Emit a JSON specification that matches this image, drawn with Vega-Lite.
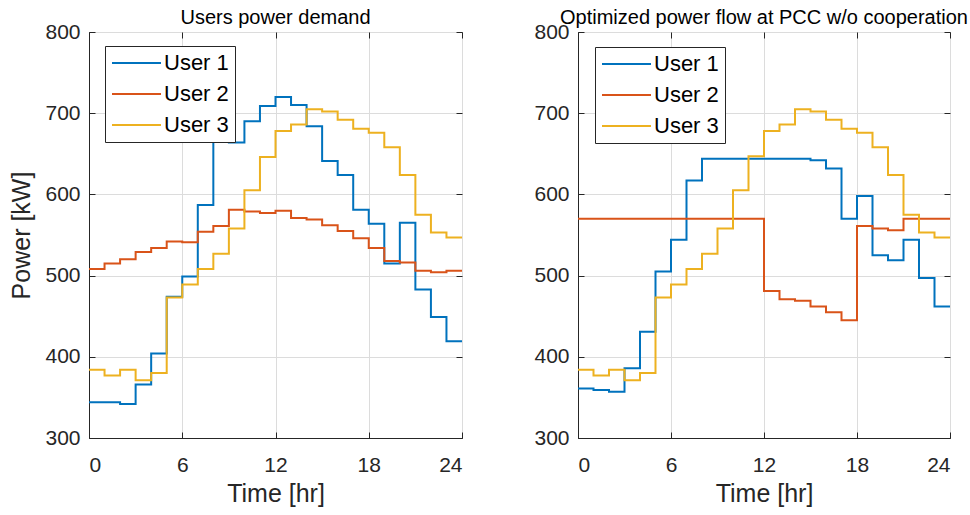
{
"$schema": "https://vega.github.io/schema/vega-lite/v6.json",
"padding": {"left": 9, "top": 7, "right": 0, "bottom": 0},
"background": "white",
"config": {
  "font": "Liberation Sans",
  "view": {"stroke": "#262626", "strokeWidth": 1},
  "axis": {"labelFont": "Liberation Sans", "labelFontSize": 21, "labelColor": "#262626", "titleFont": "Liberation Sans", "titleFontSize": 25, "titleFontWeight": "normal", "titleColor": "#262626", "domainColor": "#262626", "tickColor": "#262626", "gridColor": "#dcdcdc", "tickSize": -6},
  "axisX": {"labelPadding": 22, "titlePadding": 6},
  "axisY": {"labelPadding": 15, "titlePadding": 10},
  "title": {"font": "Liberation Sans", "fontSize": 20, "fontWeight": "normal", "color": "#000000", "offset": -7, "frame": "group"},
  "legend": {"symbolType": "M-1,0H3.9", "symbolStrokeWidth": 2, "symbolSize": 400, "labelFont": "Liberation Sans", "labelFontSize": 22, "labelColor": "#000000", "fillColor": "white", "strokeColor": "#262626", "padding": 6, "rowPadding": 9, "labelOffset": 31, "cornerRadius": 0}
},
"datasets": {"d": [
{"panel":"L","user":"User 1","hour":0,"power":344},{"panel":"L","user":"User 1","hour":1,"power":344},{"panel":"L","user":"User 1","hour":2,"power":342},{"panel":"L","user":"User 1","hour":3,"power":366},{"panel":"L","user":"User 1","hour":4,"power":404},{"panel":"L","user":"User 1","hour":5,"power":474},{"panel":"L","user":"User 1","hour":6,"power":499},{"panel":"L","user":"User 1","hour":7,"power":587},{"panel":"L","user":"User 1","hour":8,"power":690},{"panel":"L","user":"User 1","hour":9,"power":664},{"panel":"L","user":"User 1","hour":10,"power":690},{"panel":"L","user":"User 1","hour":11,"power":709},{"panel":"L","user":"User 1","hour":12,"power":720},{"panel":"L","user":"User 1","hour":13,"power":710},{"panel":"L","user":"User 1","hour":14,"power":684},{"panel":"L","user":"User 1","hour":15,"power":641},{"panel":"L","user":"User 1","hour":16,"power":624},{"panel":"L","user":"User 1","hour":17,"power":581},{"panel":"L","user":"User 1","hour":18,"power":564},{"panel":"L","user":"User 1","hour":19,"power":515},{"panel":"L","user":"User 1","hour":20,"power":565},{"panel":"L","user":"User 1","hour":21,"power":483},{"panel":"L","user":"User 1","hour":22,"power":449},{"panel":"L","user":"User 1","hour":23,"power":419},{"panel":"L","user":"User 1","hour":24,"power":419},
{"panel":"L","user":"User 2","hour":0,"power":508},{"panel":"L","user":"User 2","hour":1,"power":515},{"panel":"L","user":"User 2","hour":2,"power":520},{"panel":"L","user":"User 2","hour":3,"power":529},{"panel":"L","user":"User 2","hour":4,"power":534},{"panel":"L","user":"User 2","hour":5,"power":542},{"panel":"L","user":"User 2","hour":6,"power":541},{"panel":"L","user":"User 2","hour":7,"power":554},{"panel":"L","user":"User 2","hour":8,"power":561},{"panel":"L","user":"User 2","hour":9,"power":581},{"panel":"L","user":"User 2","hour":10,"power":579},{"panel":"L","user":"User 2","hour":11,"power":577},{"panel":"L","user":"User 2","hour":12,"power":580},{"panel":"L","user":"User 2","hour":13,"power":571},{"panel":"L","user":"User 2","hour":14,"power":569},{"panel":"L","user":"User 2","hour":15,"power":562},{"panel":"L","user":"User 2","hour":16,"power":555},{"panel":"L","user":"User 2","hour":17,"power":546},{"panel":"L","user":"User 2","hour":18,"power":534},{"panel":"L","user":"User 2","hour":19,"power":518},{"panel":"L","user":"User 2","hour":20,"power":516},{"panel":"L","user":"User 2","hour":21,"power":506},{"panel":"L","user":"User 2","hour":22,"power":504},{"panel":"L","user":"User 2","hour":23,"power":506},{"panel":"L","user":"User 2","hour":24,"power":506},
{"panel":"L","user":"User 3","hour":0,"power":384},{"panel":"L","user":"User 3","hour":1,"power":377},{"panel":"L","user":"User 3","hour":2,"power":384},{"panel":"L","user":"User 3","hour":3,"power":371},{"panel":"L","user":"User 3","hour":4,"power":380},{"panel":"L","user":"User 3","hour":5,"power":473},{"panel":"L","user":"User 3","hour":6,"power":489},{"panel":"L","user":"User 3","hour":7,"power":508},{"panel":"L","user":"User 3","hour":8,"power":527},{"panel":"L","user":"User 3","hour":9,"power":558},{"panel":"L","user":"User 3","hour":10,"power":605},{"panel":"L","user":"User 3","hour":11,"power":646},{"panel":"L","user":"User 3","hour":12,"power":678},{"panel":"L","user":"User 3","hour":13,"power":686},{"panel":"L","user":"User 3","hour":14,"power":705},{"panel":"L","user":"User 3","hour":15,"power":702},{"panel":"L","user":"User 3","hour":16,"power":692},{"panel":"L","user":"User 3","hour":17,"power":681},{"panel":"L","user":"User 3","hour":18,"power":676},{"panel":"L","user":"User 3","hour":19,"power":658},{"panel":"L","user":"User 3","hour":20,"power":624},{"panel":"L","user":"User 3","hour":21,"power":575},{"panel":"L","user":"User 3","hour":22,"power":553},{"panel":"L","user":"User 3","hour":23,"power":547},{"panel":"L","user":"User 3","hour":24,"power":547},
{"panel":"R","user":"User 1","hour":0,"power":361},{"panel":"R","user":"User 1","hour":1,"power":359},{"panel":"R","user":"User 1","hour":2,"power":357},{"panel":"R","user":"User 1","hour":3,"power":386},{"panel":"R","user":"User 1","hour":4,"power":431},{"panel":"R","user":"User 1","hour":5,"power":505},{"panel":"R","user":"User 1","hour":6,"power":544},{"panel":"R","user":"User 1","hour":7,"power":617},{"panel":"R","user":"User 1","hour":8,"power":644},{"panel":"R","user":"User 1","hour":9,"power":644},{"panel":"R","user":"User 1","hour":10,"power":644},{"panel":"R","user":"User 1","hour":11,"power":644},{"panel":"R","user":"User 1","hour":12,"power":644},{"panel":"R","user":"User 1","hour":13,"power":644},{"panel":"R","user":"User 1","hour":14,"power":644},{"panel":"R","user":"User 1","hour":15,"power":642},{"panel":"R","user":"User 1","hour":16,"power":632},{"panel":"R","user":"User 1","hour":17,"power":570},{"panel":"R","user":"User 1","hour":18,"power":598},{"panel":"R","user":"User 1","hour":19,"power":525},{"panel":"R","user":"User 1","hour":20,"power":519},{"panel":"R","user":"User 1","hour":21,"power":544},{"panel":"R","user":"User 1","hour":22,"power":497},{"panel":"R","user":"User 1","hour":23,"power":462},{"panel":"R","user":"User 1","hour":24,"power":462},
{"panel":"R","user":"User 2","hour":0,"power":570},{"panel":"R","user":"User 2","hour":1,"power":570},{"panel":"R","user":"User 2","hour":2,"power":570},{"panel":"R","user":"User 2","hour":3,"power":570},{"panel":"R","user":"User 2","hour":4,"power":570},{"panel":"R","user":"User 2","hour":5,"power":570},{"panel":"R","user":"User 2","hour":6,"power":570},{"panel":"R","user":"User 2","hour":7,"power":570},{"panel":"R","user":"User 2","hour":8,"power":570},{"panel":"R","user":"User 2","hour":9,"power":570},{"panel":"R","user":"User 2","hour":10,"power":570},{"panel":"R","user":"User 2","hour":11,"power":570},{"panel":"R","user":"User 2","hour":12,"power":481},{"panel":"R","user":"User 2","hour":13,"power":471},{"panel":"R","user":"User 2","hour":14,"power":469},{"panel":"R","user":"User 2","hour":15,"power":462},{"panel":"R","user":"User 2","hour":16,"power":455},{"panel":"R","user":"User 2","hour":17,"power":445},{"panel":"R","user":"User 2","hour":18,"power":561},{"panel":"R","user":"User 2","hour":19,"power":558},{"panel":"R","user":"User 2","hour":20,"power":556},{"panel":"R","user":"User 2","hour":21,"power":570},{"panel":"R","user":"User 2","hour":22,"power":570},{"panel":"R","user":"User 2","hour":23,"power":570},{"panel":"R","user":"User 2","hour":24,"power":570},
{"panel":"R","user":"User 3","hour":0,"power":384},{"panel":"R","user":"User 3","hour":1,"power":377},{"panel":"R","user":"User 3","hour":2,"power":384},{"panel":"R","user":"User 3","hour":3,"power":371},{"panel":"R","user":"User 3","hour":4,"power":380},{"panel":"R","user":"User 3","hour":5,"power":473},{"panel":"R","user":"User 3","hour":6,"power":489},{"panel":"R","user":"User 3","hour":7,"power":508},{"panel":"R","user":"User 3","hour":8,"power":527},{"panel":"R","user":"User 3","hour":9,"power":558},{"panel":"R","user":"User 3","hour":10,"power":605},{"panel":"R","user":"User 3","hour":11,"power":647},{"panel":"R","user":"User 3","hour":12,"power":678},{"panel":"R","user":"User 3","hour":13,"power":686},{"panel":"R","user":"User 3","hour":14,"power":705},{"panel":"R","user":"User 3","hour":15,"power":702},{"panel":"R","user":"User 3","hour":16,"power":692},{"panel":"R","user":"User 3","hour":17,"power":681},{"panel":"R","user":"User 3","hour":18,"power":676},{"panel":"R","user":"User 3","hour":19,"power":658},{"panel":"R","user":"User 3","hour":20,"power":624},{"panel":"R","user":"User 3","hour":21,"power":575},{"panel":"R","user":"User 3","hour":22,"power":553},{"panel":"R","user":"User 3","hour":23,"power":547},{"panel":"R","user":"User 3","hour":24,"power":547}
]},
"spacing": 66,
"resolve": {"legend": {"color": "independent"}},
"hconcat": [
{
  "width": 373, "height": 406,
  "title": "Users power demand",
  "data": {"name": "d"},
  "transform": [{"filter": "datum.panel == 'L'"}],
  "resolve": {"axis": {"x": "independent", "y": "independent"}},
  "layer": [
    {
      "mark": {"type": "line", "interpolate": "step-after", "strokeWidth": 2},
      "encoding": {
        "x": {"field": "hour", "type": "quantitative", "scale": {"domain": [0, 24], "nice": false}, "axis": {"values": [0, 6, 12, 18, 24], "title": "Time [hr]"}},
        "y": {"field": "power", "type": "quantitative", "scale": {"domain": [300, 800], "nice": false, "zero": false}, "axis": {"values": [300, 400, 500, 600, 700, 800], "title": "Power [kW]"}},
        "color": {"field": "user", "type": "nominal", "scale": {"domain": ["User 1", "User 2", "User 3"], "range": ["#0072BD", "#D95319", "#EDB120"]}, "legend": {"orient": "none", "legendX": 16, "legendY": 14, "title": null}}
      }
    },
    {
      "mark": {"type": "line", "opacity": 0},
      "encoding": {
        "x": {"field": "hour", "type": "quantitative", "axis": {"orient": "top", "values": [0, 6, 12, 18, 24], "labels": false, "title": null, "grid": false, "domain": false}},
        "y": {"field": "power", "type": "quantitative", "axis": {"orient": "right", "values": [300, 400, 500, 600, 700, 800], "labels": false, "title": null, "grid": false, "domain": false}},
        "detail": {"field": "user"}
      }
    }
  ]
},
{
  "width": 372, "height": 406,
  "title": "Optimized power flow at PCC w/o cooperation",
  "data": {"name": "d"},
  "transform": [{"filter": "datum.panel == 'R'"}],
  "resolve": {"axis": {"x": "independent", "y": "independent"}},
  "layer": [
    {
      "mark": {"type": "line", "interpolate": "step-after", "strokeWidth": 2},
      "encoding": {
        "x": {"field": "hour", "type": "quantitative", "scale": {"domain": [0, 24], "nice": false}, "axis": {"values": [0, 6, 12, 18, 24], "title": "Time [hr]"}},
        "y": {"field": "power", "type": "quantitative", "scale": {"domain": [300, 800], "nice": false, "zero": false}, "axis": {"values": [300, 400, 500, 600, 700, 800], "title": null}},
        "color": {"field": "user", "type": "nominal", "scale": {"domain": ["User 1", "User 2", "User 3"], "range": ["#0072BD", "#D95319", "#EDB120"]}, "legend": {"orient": "none", "legendX": 17, "legendY": 15, "title": null}}
      }
    },
    {
      "mark": {"type": "line", "opacity": 0},
      "encoding": {
        "x": {"field": "hour", "type": "quantitative", "axis": {"orient": "top", "values": [0, 6, 12, 18, 24], "labels": false, "title": null, "grid": false, "domain": false}},
        "y": {"field": "power", "type": "quantitative", "axis": {"orient": "right", "values": [300, 400, 500, 600, 700, 800], "labels": false, "title": null, "grid": false, "domain": false}},
        "detail": {"field": "user"}
      }
    }
  ]
}
]
}
